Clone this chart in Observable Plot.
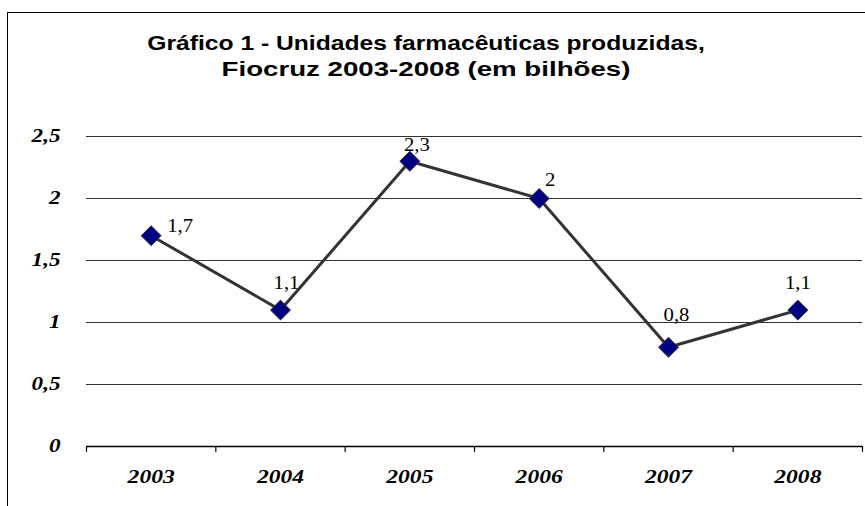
<!DOCTYPE html>
<html><head><meta charset="utf-8">
<script src="https://cdn.jsdelivr.net/npm/d3@7"></script>
<script src="https://cdn.jsdelivr.net/npm/@observablehq/plot@0.6"></script>
<style>
body{margin:0;background:#fff;}
#wrap{position:relative;width:865px;height:506px;overflow:hidden;background:#fff;}
#frame{position:absolute;left:7px;top:12px;width:900px;height:600px;border-left:1.5px solid #000;border-top:1.5px solid #000;}
#title{position:absolute;left:0;top:0;}
#chart{position:absolute;left:0;top:0;}
</style></head><body>
<div id="wrap"><div id="frame"></div><div id="chart"></div>
<svg id="title" width="865" height="100" font-family="'Liberation Sans',Arial,sans-serif" font-weight="bold" font-size="20" text-anchor="middle">
<text id="t1" transform="translate(426,49.5)">Gráfico 1 - Unidades farmacêuticas produzidas,</text>
<text id="t2" transform="translate(426,76)">Fiocruz 2003-2008 (em bilhões)</text>
</svg></div>
<script>
const years = [2003, 2004, 2005, 2006, 2007, 2008];
const values = [1.7, 1.1, 2.3, 2.0, 0.8, 1.1];
const valueLabels = ["1,7", "1,1", "2,3", "2", "0,8", "1,1"];
const yTicks = [0, 0.5, 1, 1.5, 2, 2.5];
const yTickLabels = ["0", "0,5", "1", "1,5", "2", "2,5"];

const data = years.map((year, i) => ({year, value: values[i], label: valueLabels[i]}));
const boundaries = years.map(y => y - 0.5).concat([years[years.length - 1] + 0.5]);
const nudge = [[29, -9], [6, -27], [7, -16], [11, -18], [8, -32], [0, -27]];
const serif = "'Liberation Serif','Times New Roman',serif";

const plot = Plot.plot({
  width: 865, height: 506,
  marginLeft: 86, marginRight: 3, marginTop: 136, marginBottom: 60,
  x: {type: "linear", domain: [2002.5, 2008.5]},
  y: {domain: [0, 2.5]},
  style: {background: "transparent", overflow: "visible"},
  marks: [
    Plot.ruleY(yTicks.filter(d => d > 0), {stroke: "#333", strokeWidth: 1}),
    Plot.ruleY([0], {stroke: "#000", strokeWidth: 1.5}),
    Plot.axisX(boundaries, {label: null, tickSize: 6, tickFormat: () => "", stroke: "#000", strokeWidth: 1.2}),
    Plot.axisX(years, {label: null, tickSize: 0, tickPadding: 23, tickFormat: d => String(d),
      fontFamily: serif, fontSize: 19, fontWeight: "bold", fontStyle: "italic", fill: "#000"}),
    Plot.axisY(yTicks, {label: null, tickSize: 0, tickPadding: 26, tickFormat: d => yTickLabels[yTicks.indexOf(d)],
      fontFamily: serif, fontSize: 18.5, fontWeight: "bold", fontStyle: "italic", fill: "#000"}),
    Plot.line(data, {x: "year", y: "value", stroke: "#333", strokeWidth: 3}),
    Plot.dot(data, {x: "year", y: "value", symbol: "diamond2", r: 9, fill: "#000080", stroke: "#333", strokeWidth: 1}),
    ...data.map((d, i) => Plot.text([d], {x: "year", y: "value", text: "label", dx: nudge[i][0], dy: nudge[i][1],
      fontFamily: serif, fontSize: 18, fill: "#000"}))
  ]
});
document.getElementById("chart").appendChild(plot);

// widen glyphs horizontally to match the reference's stretched text
function stretch(selector, k) {
  plot.querySelectorAll(selector).forEach(t => {
    const w = t.getComputedTextLength();
    if (w > 0) { t.setAttribute("textLength", w * k); t.setAttribute("lengthAdjust", "spacingAndGlyphs"); }
  });
}
stretch('g[aria-label="x-axis tick label"] text', 1.24);
stretch('g[aria-label="y-axis tick label"] text', 1.25);
stretch('g[aria-label="text"] text', 1.15);

// title lines: scale horizontally to the reference widths
[["t1", 558], ["t2", 409]].forEach(([id, target]) => {
  const t = document.getElementById(id);
  const w = t.getComputedTextLength();
  const tr = t.getAttribute("transform");
  t.setAttribute("transform", tr + ` scale(${target / w},1)`);
});
</script>
</body></html>
